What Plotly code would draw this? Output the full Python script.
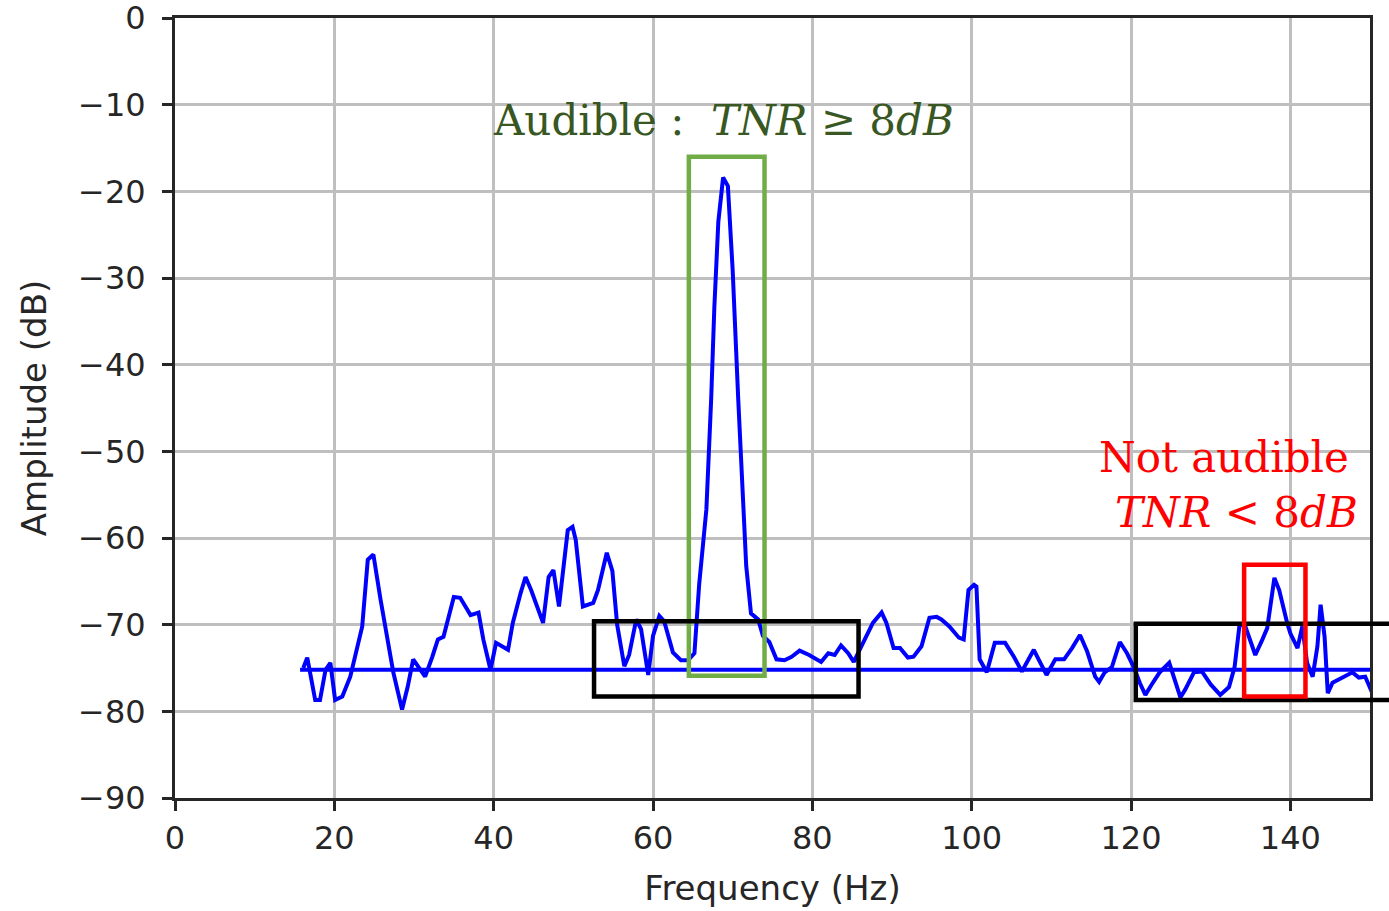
import plotly.graph_objects as go

# ---- data ----
freq = [16.1, 16.6, 17.6, 18.2, 18.9, 19.5, 20.1, 21.0, 22.0, 22.6, 23.5, 24.2, 24.9, 25.8, 26.7,
        27.4, 28.5, 29.2, 29.9, 30.8, 31.4, 32.3, 33.0, 33.7, 35.0, 35.8, 37.1, 38.1, 38.7, 39.6,
        40.3, 41.8, 42.4, 43.4, 44.0, 44.7, 46.2, 46.9, 47.5, 48.2, 48.7, 49.3, 49.9, 50.3, 51.2,
        52.5, 53.1, 54.2, 54.9, 55.5, 56.4, 57.0, 57.9, 58.5, 59.4, 60.0, 60.8, 61.4, 62.5, 63.5,
        64.4, 65.2, 65.8, 66.7, 67.3, 67.7, 68.2, 68.8, 69.4, 70.0, 70.7, 71.1, 71.7, 72.3, 73.2,
        73.8, 74.6, 75.5, 76.5, 77.4, 78.4, 79.6, 81.1, 82.0, 82.8, 83.6, 84.5, 85.2, 86.3, 87.6,
        88.7, 89.3, 90.2, 91.0, 92.0, 92.7, 93.7, 94.7, 95.6, 96.2, 97.2, 98.4, 99.0, 99.6, 100.3,
        100.6, 101.0, 101.9, 102.9, 104.2, 105.3, 106.3, 106.9, 107.8, 108.4, 109.4, 110.5, 111.6,
        112.6, 113.6, 114.5, 115.5, 116.0, 116.7, 117.6, 118.6, 119.5, 120.4, 121.1, 121.8, 122.6,
        123.6, 124.8, 125.4, 126.2, 126.8, 127.9, 128.9, 130.0, 131.2, 132.3, 133.0, 133.6, 134.2,
        134.8, 135.6, 136.5, 137.1, 138.0, 138.6, 139.6, 140.0, 140.9, 141.5, 142.1, 142.8, 143.4,
        143.8, 144.3, 144.7, 145.3, 146.5, 147.8, 148.6, 149.4, 150.3]
amp = [-75.0, -73.8, -78.7, -78.7, -75.2, -74.4, -78.7, -78.3, -76.0, -73.7, -70.2, -62.5, -61.9, -67.1, -71.7,
       -75.5, -79.8, -77.2, -74.0, -75.2, -76.0, -73.7, -71.7, -71.4, -66.8, -66.9, -68.9, -68.6, -71.7, -75.2,
       -72.1, -72.9, -69.8, -66.3, -64.5, -66.0, -69.8, -64.5, -63.7, -67.9, -64.0, -59.1, -58.7, -60.2, -67.9,
       -67.5, -66.0, -61.7, -63.8, -70.0, -74.8, -73.5, -69.4, -70.5, -75.8, -71.3, -69.0, -69.6, -73.2, -74.1,
       -74.1, -73.3, -65.3, -56.7, -44.0, -33.4, -23.5, -18.4, -19.4, -29.1, -44.0, -52.5, -63.2, -68.7, -69.4,
       -71.3, -72.0, -74.0, -74.1, -73.7, -73.0, -73.5, -74.3, -73.3, -73.5, -72.4, -73.3, -74.3, -72.3, -69.8,
       -68.6, -69.8, -72.7, -72.7, -73.8, -73.7, -72.5, -69.2, -69.1, -69.4, -70.2, -71.5, -71.7, -66.0, -65.4,
       -65.6, -74.0, -75.5, -72.1, -72.1, -73.7, -75.4, -74.4, -72.9, -74.0, -75.8, -74.0, -74.0,
       -72.7, -71.2, -73.1, -76.0, -76.6, -75.5, -74.9, -72.0, -73.3, -75.0, -76.7, -78.1, -76.9,
       -75.5, -74.4, -76.0, -78.4, -77.5, -75.5, -75.4, -76.9, -78.1, -77.2, -74.9, -70.2, -69.8,
       -71.4, -73.5, -71.7, -70.4, -64.6, -66.0, -69.8, -71.0, -72.7, -70.2, -74.4, -76.0, -72.5,
       -67.7, -71.4, -77.9, -76.7, -76.1, -75.5, -76.1, -76.0, -77.9]

threshold_freq = [15.7, 150.0]
threshold_amp = [-75.2, -75.2]

x_range = [0, 150]
y_range = [-90, 0]
x_ticks = [0, 20, 40, 60, 80, 100, 120, 140]
x_ticktext = ["0", "20", "40", "60", "80", "100", "120", "140"]
y_ticks = [0, -10, -20, -30, -40, -50, -60, -70, -80, -90]
y_ticktext = ["0", "\u221210", "\u221220", "\u221230", "\u221240", "\u221250",
              "\u221260", "\u221270", "\u221280", "\u221290"]

# boxes: [f0, f1, a0, a1]
green_box = [64.5, 74.0, -75.9, -16.0]
black_box1 = [52.6, 85.8, -78.3, -69.6]
black_box2 = [120.6, 152.7, -78.7, -69.9]
red_box = [134.2, 141.9, -78.3, -63.1]

fig = go.Figure()
fig.add_trace(go.Scatter(x=threshold_freq, y=threshold_amp, mode="lines",
                         line=dict(color="#0000ff", width=4), showlegend=False, hoverinfo="skip"))
fig.add_trace(go.Scatter(x=freq, y=amp, mode="lines",
                         line=dict(color="#0000ff", width=4), showlegend=False))


def px(f):
    return (f - x_range[0]) / (x_range[1] - x_range[0])


def py(a):
    return (a - y_range[0]) / (y_range[1] - y_range[0])


def box(b, color, ref="data"):
    if ref == "data":
        fig.add_shape(type="rect", xref="x", yref="y", x0=b[0], x1=b[1], y0=b[2], y1=b[3],
                      line=dict(color=color, width=4.5), fillcolor="rgba(0,0,0,0)")
    else:
        fig.add_shape(type="rect", xref="paper", yref="paper", x0=px(b[0]), x1=px(b[1]),
                      y0=py(b[2]), y1=py(b[3]),
                      line=dict(color=color, width=4.5), fillcolor="rgba(0,0,0,0)")


box(green_box, "#70ad47")
box(black_box1, "#000000")
box(black_box2, "#000000", ref="paper")
box(red_box, "#ff0000")

serif = "DejaVu Serif"
fig.add_annotation(x=68.9, y=-11.8, xref="x", yref="y", showarrow=False,
                   text="Audible :\u00a0\u00a0<i>TNR</i> \u2265 8<i>dB</i>",
                   font=dict(family=serif, size=42, color="#385723"), xanchor="center", yanchor="middle")
fig.add_annotation(x=131.7, y=-50.7, xref="x", yref="y", showarrow=False,
                   text="Not audible",
                   font=dict(family=serif, size=42, color="#ff0000"), xanchor="center", yanchor="middle")
fig.add_annotation(x=133.2, y=-57.1, xref="x", yref="y", showarrow=False,
                   text="<i>TNR</i> &lt; 8<i>dB</i>",
                   font=dict(family=serif, size=42, color="#ff0000"), xanchor="center", yanchor="middle")

axis_common = dict(showgrid=True, gridcolor="#bfbfbf", gridwidth=2.5,
                   showline=True, linecolor="#262626", linewidth=3, mirror=True,
                   ticks="outside", ticklen=10, tickwidth=2.5, tickcolor="#262626",
                   zeroline=False, ticklabeloverflow="allow", automargin=False,
                   tickfont=dict(family="DejaVu Sans", size=32, color="#262626"))

fig.update_xaxes(range=x_range, tickvals=x_ticks, ticktext=x_ticktext,
                 title=dict(text="Frequency (Hz)", font=dict(family="DejaVu Sans", size=34, color="#262626"),
                            standoff=20),
                 **axis_common)
fig.update_yaxes(range=[y_range[0], y_range[1] + 0.001], tickvals=y_ticks, ticktext=y_ticktext,
                 ticklabelstandoff=10,
                 title=dict(text="Amplitude (dB)", font=dict(family="DejaVu Sans", size=34, color="#262626"),
                            standoff=22),
                 **axis_common)

fig.update_layout(width=1389, height=911, margin=dict(l=175, r=19, t=18, b=113, autoexpand=False),
                  plot_bgcolor="white", paper_bgcolor="white", showlegend=False)

fig.write_html("out.html")
